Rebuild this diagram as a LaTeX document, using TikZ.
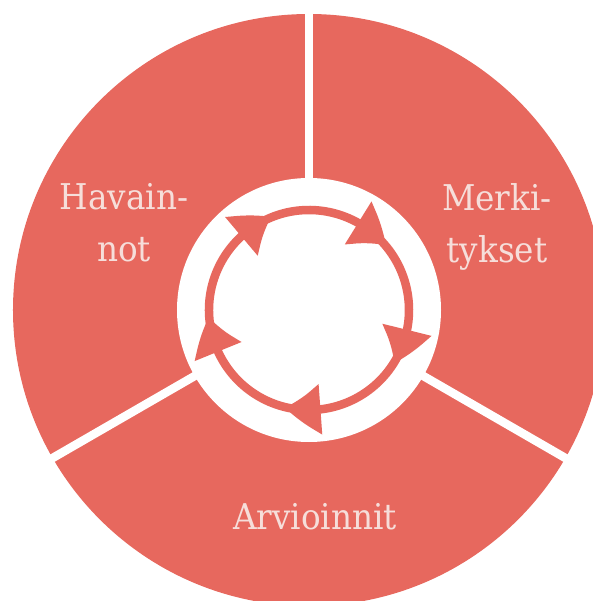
\documentclass[tikz,border=0pt]{standalone}
\usepackage{fontspec}
\setmainfont[FakeStretch=0.92]{DejaVu Serif}
\usepackage{xcolor}
\usetikzlibrary{arrows.meta,bending}

\definecolor{cyclered}{RGB}{231,104,94}
\definecolor{labelpink}{RGB}{246,222,218}

\begin{document}
\begin{tikzpicture}[
  ringfill/.style={fill=cyclered, draw=none},
  gapline/.style={draw=white, line width=0.085cm},
  lbl/.style={
    text=labelpink, align=center, inner sep=0pt,
    font=\fontsize{10.1}{14.7}\selectfont
  },
  cyc/.style={
    draw=cyclered, line width=0.085cm,
    -{Triangle[length=0.36cm, width=0.48cm, bend]}
  },
]

\useasboundingbox (-3.09,-2.91) rectangle (2.84,3.10);
\clip (-3.09,-2.91) rectangle (2.84,3.10);

% outer ring and centre hole
\path[ringfill] (0,0) circle (2.96);
\fill[white] (0,0) circle (1.32);

% gaps between the three parts
\draw[gapline] (90:1.2)  -- (90:3.2);
\draw[gapline] (210:1.2) -- (210:3.2);
\draw[gapline] (330:1.2) -- (330:3.2);

\node[lbl] (havainnot)   at (-1.85, 0.87) {Havain-\\not};
\node[lbl] (merkitykset) at (1.88, 0.83)  {Merki-\\tykset};
\node[lbl, anchor=base] (arvioinnit) at (0.06,-2.19) {Arvioinnit};

% cycle arrows in the middle
\draw[cyc] (192:1) arc[start angle=192, end angle=112, radius=1];
\draw[cyc] (120:1) arc[start angle=120, end angle=40,  radius=1];
\draw[cyc] (48:1)  arc[start angle=48,  end angle=-32, radius=1];
\draw[cyc] (-24:1) arc[start angle=-24, end angle=-104, radius=1];
\draw[cyc] (-96:1) arc[start angle=-96, end angle=-176, radius=1];

\end{tikzpicture}
\end{document}
